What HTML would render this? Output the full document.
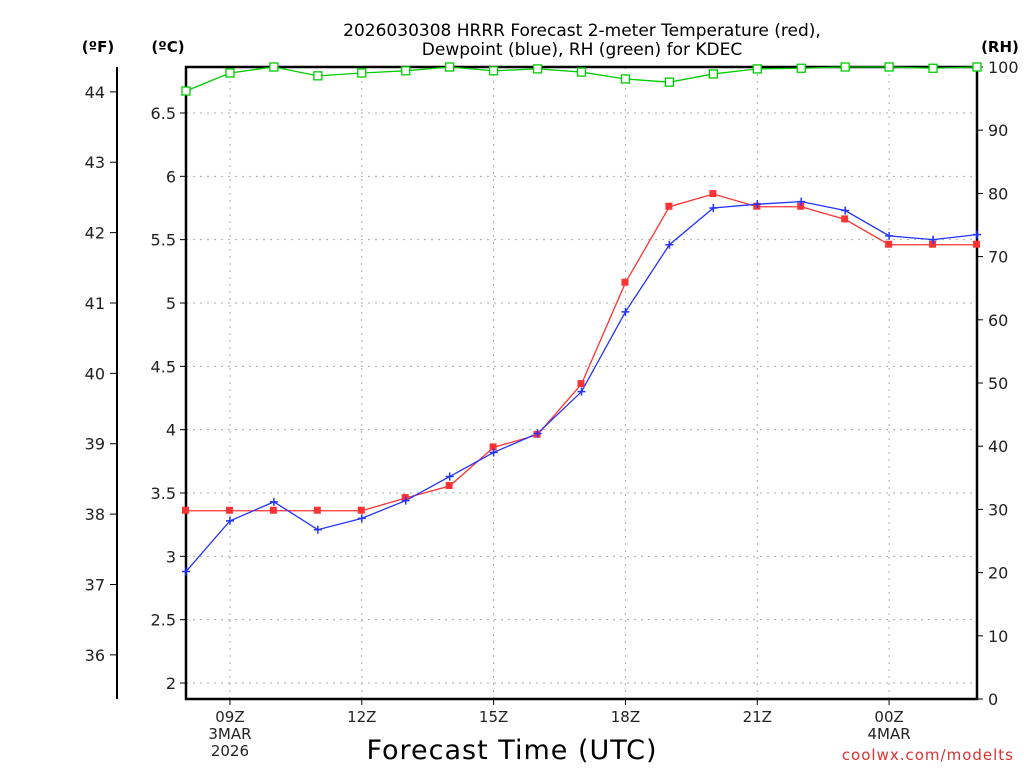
<!DOCTYPE html>
<html><head><meta charset="utf-8"><style>
body{margin:0;background:#fff;}
svg text{font-family:"DejaVu Sans","Liberation Sans",sans-serif;}
</style></head><body>
<svg id="chart" width="1024" height="768" viewBox="0 0 1024 768" xmlns="http://www.w3.org/2000/svg">
<rect width="1024" height="768" fill="#fff"/>
<text x="582" y="36" text-anchor="middle" font-size="17" fill="#000">2026030308 HRRR Forecast 2-meter Temperature (red),</text>
<text x="582" y="55" text-anchor="middle" font-size="17" fill="#000">Dewpoint (blue), RH (green) for KDEC</text>
<text x="98" y="52" text-anchor="middle" font-size="15" font-weight="bold">(ºF)</text>
<text x="168" y="52" text-anchor="middle" font-size="15" font-weight="bold">(ºC)</text>
<text x="1000" y="52" text-anchor="middle" font-size="15" font-weight="bold">(RH)</text>
<text x="512" y="759" text-anchor="middle" font-size="27" letter-spacing="1">Forecast Time (UTC)</text>
<text x="1014" y="760" text-anchor="end" font-size="15" fill="#e03030" letter-spacing="1">coolwx.com/modelts</text>
<g id="grid"></g><g id="axes"></g><g id="series"></g>
</svg>
<script>
const hours = ["08","09","10","11","12","13","14","15","16","17","18","19","20","21","22","23","00","01","02"];
const tempC = [3.36,3.36,3.36,3.36,3.36,3.46,3.555,3.86,3.96,4.36,5.16,5.76,5.86,5.76,5.76,5.66,5.46,5.46,5.46];
const dewC = [2.88,3.28,3.43,3.21,3.30,3.44,3.63,3.82,3.97,4.30,4.93,5.46,5.75,5.78,5.80,5.73,5.53,5.50,5.54];
const rh = [96.2,99.05,100,98.6,99.05,99.4,100,99.4,99.7,99.2,98.1,97.6,98.9,99.7,99.8,100,100,99.8,100];
const cTicks = [2,2.5,3,3.5,4,4.5,5,5.5,6,6.5];
const fTicks = [36,37,38,39,40,41,42,43,44];
const rhTicks = [0,10,20,30,40,50,60,70,80,90,100];
const xLabels = [[1,"09Z","3MAR","2026"],[4,"12Z"],[7,"15Z"],[10,"18Z"],[13,"21Z"],[16,"00Z","4MAR"]];

const X0=186,X1=977,Y0=67,Y1=699;
const xs=i=>X0+i*(X1-X0)/(hours.length-1);
const yc=c=>683-(c-2)*126.67;
const yf=f=>yc((f-32)/1.8);
const yr=r=>Y1-r*(Y1-Y0)/100;
const NS="http://www.w3.org/2000/svg";
function mk(parent,tag,attrs,txt){const e=document.createElementNS(NS,tag);for(const k in attrs)e.setAttribute(k,attrs[k]);if(txt!==undefined)e.textContent=txt;document.getElementById(parent).appendChild(e);return e;}

cTicks.forEach(c=>{const y=yc(c);
 const g=mk("grid","line",{x1:X0,x2:X1,y1:y,y2:y,stroke:"#aaa","stroke-dasharray":"2,5"});
 
 const t=mk("axes","line",{x1:X0-6,x2:X0,y1:y,y2:y,stroke:"#000"});
 const l=mk("axes","text",{x:X0-10,y:y+6,"text-anchor":"end","font-size":"16",fill:"#222"},String(c));
 
});
xLabels.forEach(d=>{const x=xs(d[0]);
 const g=mk("grid","line",{x1:x,x2:x,y1:Y0,y2:Y1,stroke:"#aaa","stroke-dasharray":"2,5"});
 
 mk("axes","line",{x1:x,x2:x,y1:Y1,y2:Y1+6,stroke:"#000"});
 for(let j=1;j<d.length;j++){const l=mk("axes","text",{x:x,y:722+(j-1)*17,"text-anchor":"middle","font-size":"15",fill:"#222"},d[j]);
 }
});
fTicks.forEach(f=>{const y=yf(f);
 mk("axes","line",{x1:110,x2:117,y1:y,y2:y,stroke:"#000"});
 const l=mk("axes","text",{x:105,y:y+6,"text-anchor":"end","font-size":"16",fill:"#222"},String(f));
 
});
rhTicks.forEach(r=>{const y=yr(r);
 mk("axes","line",{x1:X1,x2:X1+6,y1:y,y2:y,stroke:"#000"});
 const l=mk("axes","text",{x:988,y:y+6,"font-size":"16",fill:"#222"},String(r));
 
});
const fr=mk("axes","rect",{x:X0,y:Y0,width:X1-X0,height:Y1-Y0,fill:"none",stroke:"#000","stroke-width":"2.5"});

const fa=mk("axes","line",{x1:117,x2:117,y1:67,y2:699,stroke:"#000","stroke-width":"2"});


function line(vals,yfn,color,name){
 const p=mk("series","polyline",{points:vals.map((v,i)=>xs(i)+","+yfn(v)).join(" "),fill:"none",stroke:color,"stroke-width":"1.3"});
 
}
line(rh,yr,"#00cc00","rh-line");
line(tempC,yc,"#ff3333","temperature-line");
line(dewC,yc,"#2233ff","dewpoint-line");
rh.forEach((v,i)=>{const m=mk("series","rect",{x:xs(i)-4,y:yr(v)-4,width:8,height:8,fill:"#fff",stroke:"#00cc00","stroke-width":"1.3"});
 });
tempC.forEach((v,i)=>{const m=mk("series","rect",{x:xs(i)-4,y:yc(v)-4,width:7,height:7,fill:"#ff3333"});
 });
dewC.forEach((v,i)=>{const x=xs(i),y=yc(v);
 const m=mk("series","path",{d:`M${x-4},${y}H${x+4}M${x},${y-4}V${y+4}`,stroke:"#2233ff","stroke-width":"1.5"});
 });
</script>
</body></html>
